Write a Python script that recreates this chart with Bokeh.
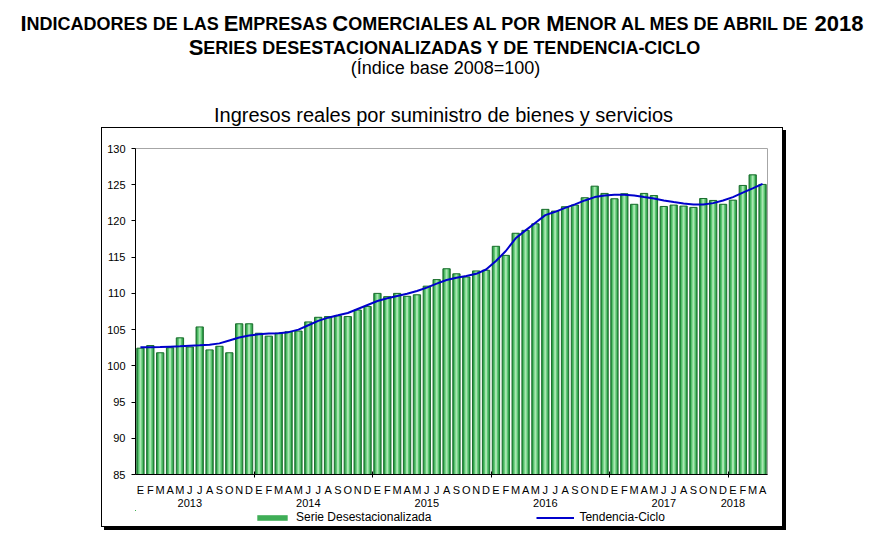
from bokeh.plotting import figure
from bokeh.models import Range1d, FixedTicker, Legend, LegendItem, ColumnDataSource, LinearAxis
from bokeh.layouts import column
from bokeh.embed import file_html
from bokeh.resources import INLINE
from bokeh.core.properties import value

# ---------------- data ----------------
months = ["E", "F", "M", "A", "M", "J", "J", "A", "S", "O", "N", "D"]
years = ["2013", "2014", "2015", "2016", "2017", "2018"]
serie = [
    102.44, 102.8, 101.8, 102.5, 103.86, 102.6, 105.37, 102.2, 102.7, 101.8, 105.8, 105.8,
    104.5, 104.1, 104.5, 104.7, 104.8, 106.06, 106.7, 106.8, 106.9, 106.8, 107.7, 108.2,
    110.0, 109.55, 110.0, 109.6, 109.8, 111.0, 111.9, 113.4, 112.7, 112.26, 113.1, 113.2,
    116.5, 115.25, 118.3, 118.7, 119.6, 121.6, 121.36, 121.96, 122.19, 123.2, 124.8, 123.8,
    123.06, 123.75, 122.3, 123.8, 123.5, 122.0, 122.19, 122.05, 121.87, 123.1, 122.83, 122.3,
    122.87, 124.9, 126.36, 125.04,
]
tendencia = [
    102.55, 102.58, 102.6, 102.65, 102.7, 102.78, 102.83, 102.9, 103.1, 103.5, 103.9, 104.2,
    104.35, 104.45, 104.5, 104.65, 105.0, 105.6, 106.2, 106.65, 106.97, 107.3, 107.85, 108.4,
    108.95, 109.33, 109.65, 109.96, 110.33, 110.8, 111.34, 111.85, 112.17, 112.4, 112.7, 113.3,
    114.47, 115.85, 117.6, 118.7, 119.75, 120.8, 121.26, 121.81, 122.28, 122.83, 123.29, 123.52,
    123.6, 123.6, 123.52, 123.29, 123.1, 122.83, 122.6, 122.42, 122.28, 122.28, 122.46, 122.83,
    123.29, 123.9, 124.5, 125.12,
]
y_ticks = [85, 90, 95, 100, 105, 110, 115, 120, 125, 130]
y_min, y_max = 85, 130

title1 = "Indicadores de las Empresas Comerciales al por Menor al mes de abril de 2018"
title2 = "Series desestacionalizadas y de tendencia-ciclo"
title3 = "(Índice base 2008=100)"
chart_title = "Ingresos reales por suministro de bienes y servicios"
legend_bar = "Serie Desestacionalizada"
legend_line = "Tendencia-Ciclo"

FONT = "Liberation Sans"

# ---------------- title figure (small caps headings) ----------------
PAGE_W = 876
TH = 127
tfig = figure(width=PAGE_W, height=TH, x_range=Range1d(0, PAGE_W), y_range=Range1d(TH, 0),
              output_backend="svg", toolbar_location=None,
              min_border_left=0, min_border_right=0, min_border_top=0, min_border_bottom=0,
              x_axis_location=None, y_axis_location=None, outline_line_color=None)
tfig.grid.visible = False
tfig.frame_align = False

# Arial/Liberation Sans Bold advance widths (1/1000 em)
ADV = {" ": 278, "-": 333, "(": 333, ")": 333, "=": 584}
for d in "0123456789":
    ADV[d] = 556
ADV.update(dict(A=722, B=722, C=722, D=722, E=667, F=611, G=778, H=722, I=278, J=556, K=722,
                L=611, M=833, N=722, O=778, P=667, Q=778, R=722, S=667, T=611, U=722, V=667,
                W=944, X=667, Y=667, Z=611))

BIG, SMALL = 22.0, 18.0


def small_caps_segments(text):
    segs = []
    for c in text:
        if c.isupper() or c.isdigit():
            big = True
        elif c.islower():
            big = False
        else:
            big = segs[-1][1] if segs else False
        ch = c.upper()
        if segs and segs[-1][1] == big:
            segs[-1][0] += ch
        else:
            segs.append([ch, big])
    return segs


big_src = dict(x=[], y=[], text=[])
small_src = dict(x=[], y=[], text=[])
for text, cx, base in [(title1, 441.5, 23), (title2, 445, 47)]:
    segs = small_caps_segments(text)
    widths = [sum(ADV.get(c, 600) for c in s) * (BIG if b else SMALL) / 1000 for s, b in segs]
    x0 = cx - sum(widths) / 2
    for (s, b), w in zip(segs, widths):
        d = big_src if b else small_src
        d["x"].append(x0)
        d["y"].append(base)
        d["text"].append(s)
        x0 += w

tfig.text(x="x", y="y", text="text", source=ColumnDataSource(big_src), text_font=value(FONT),
          text_font_style="bold", text_font_size=f"{BIG}px", text_align="left",
          text_baseline="alphabetic", text_color="#000000")
tfig.text(x="x", y="y", text="text", source=ColumnDataSource(small_src), text_font=value(FONT),
          text_font_style="bold", text_font_size=f"{SMALL}px", text_align="left",
          text_baseline="alphabetic", text_color="#000000")
tfig.text(x=[445], y=[67], text=[title3], text_font=value(FONT), text_font_size="18px",
          text_align="center", text_baseline="alphabetic", text_color="#000000")
tfig.text(x=[443], y=[114], text=[chart_title], text_font=value(FONT),
          text_font_size="20px", text_align="center", text_baseline="alphabetic",
          text_color="#000000")

# ---------------- chart ----------------
n = len(serie)
idx = list(range(n))
month_labels = [months[i % 12] for i in idx]
year_starts = list(range(0, n, 12))
year_pos = [s + (5 if n - s >= 12 else 0) for s in year_starts]
year_bounds = [s - 0.5 for s in year_starts[1:]]

BOX_W = 680
p = figure(width=BOX_W, height=382, x_range=Range1d(-0.5, n - 0.5), y_range=Range1d(y_min, y_max),
           output_backend="svg", toolbar_location=None,
           min_border_left=33, min_border_right=15, min_border_top=20, min_border_bottom=36,
           x_axis_location=None, y_axis_location=None)
p.grid.visible = False
p.outline_line_color = "#a6a6a6"
p.outline_line_width = 1
p.background_fill_color = "white"
p.border_fill_color = "white"

src = ColumnDataSource(dict(x=idx, top=serie, trend=tendencia))
p.vbar(x="x", top="top", bottom=y_min, width=0.74, source=src,
       fill_color="#2b9a45", line_color=None)
p.vbar(x="x", top="top", bottom=y_min, width=0.48, source=src,
       fill_color="#5cc672", line_color=None)
p.vbar(x="x", top="top", bottom=y_min, width=0.2, source=src,
       fill_color="#a9e7b2", line_color=None)
p.vbar(x="x", top="top", bottom=y_min, width=0.74, source=src,
       fill_color=None, line_color="#1b6e2e", line_width=1)
p.line(x="x", y="trend", source=src, line_color="#0000cc", line_width=2)

yaxis = LinearAxis(ticker=FixedTicker(ticks=y_ticks), major_tick_out=4, major_tick_in=0,
                   minor_tick_line_color=None, major_label_standoff=6,
                   major_label_text_font=FONT, major_label_text_font_size="11px",
                   major_label_text_color="#000000", axis_line_color="#000000")
p.add_layout(yaxis, "left")

xaxis = LinearAxis(ticker=FixedTicker(ticks=idx, minor_ticks=year_bounds),
                   major_label_overrides={i: month_labels[i] for i in idx},
                   major_tick_line_color=None, major_tick_out=0, major_tick_in=0,
                   minor_tick_line_color="#000000", minor_tick_out=3, minor_tick_in=3,
                   axis_line_color="#000000", major_label_standoff=6,
                   major_label_text_font=FONT, major_label_text_font_size="11px",
                   major_label_text_color="#000000")
p.add_layout(xaxis, "below")

yearaxis = LinearAxis(ticker=FixedTicker(ticks=year_pos),
                      major_label_overrides={pos: years[k] for k, pos in enumerate(year_pos)},
                      major_tick_line_color=None, major_tick_out=0, major_tick_in=0,
                      minor_tick_line_color=None, axis_line_color=None, major_label_standoff=0,
                      major_label_text_font=FONT, major_label_text_font_size="11px",
                      major_label_text_color="#000000")
p.add_layout(yearaxis, "below")

# ---------------- legend strip (inside the same box) ----------------
# the strip's ranges lie far away from the data, so its renderers only feed the legend swatches
legfig = figure(width=BOX_W, height=16, x_range=Range1d(n + 1000, n + 1001),
                y_range=Range1d(-1001, -1000),
                output_backend="svg", toolbar_location=None,
                min_border_left=33, min_border_right=15, min_border_top=0, min_border_bottom=0,
                x_axis_location=None, y_axis_location=None, outline_line_color=None)
legfig.grid.visible = False
lr_bar = legfig.vbar(x="x", top="top", bottom=y_min, width=0.74, source=src,
                     fill_color="#3fae57", line_color=None)
lr_line = legfig.line(x="x", y="trend", source=src, line_color="#0000cc", line_width=2)
legend = Legend(items=[LegendItem(label=legend_bar, renderers=[lr_bar]),
                       LegendItem(label=legend_line, renderers=[lr_line])],
                orientation="horizontal", location=(118, 2), spacing=105,
                glyph_width=38, glyph_height=7, label_standoff=5, padding=0, margin=0,
                label_height=12, border_line_color=None, background_fill_alpha=0,
                label_text_font=FONT, label_text_font_size="12px", label_text_color="#000000")
legfig.add_layout(legend)

box = column(p, legfig, margin=(0, 0, 0, 101),
             styles={"border": "1px solid #000000", "box-shadow": "3px 3px 0px 0px #000000"})
layout = column(tfig, box)
open("out.html", "w").write(file_html(layout, INLINE))
